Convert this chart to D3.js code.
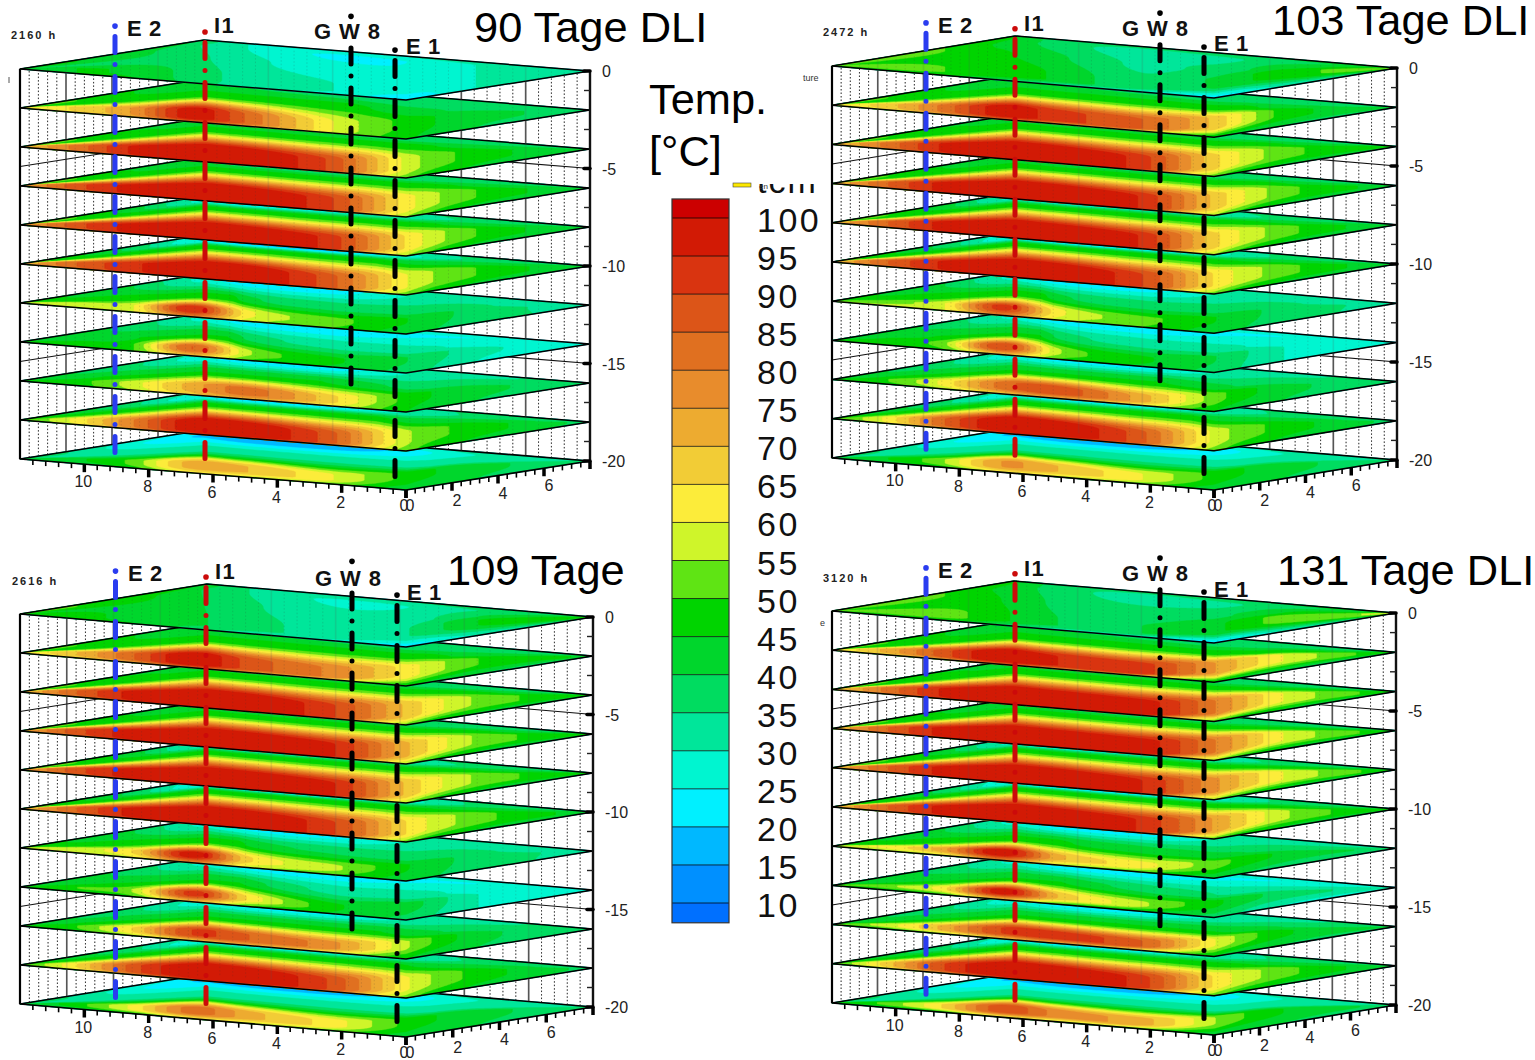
<!DOCTYPE html>
<html><head><meta charset="utf-8">
<script src="https://cdn.jsdelivr.net/npm/d3@7"></script>
<style>html,body{margin:0;background:#fff}svg{display:block}text{font-family:"Liberation Sans",Arial,sans-serif}</style>
</head><body><svg id="c" width="1535" height="1060"></svg>
<script>
// ---------- data (°C) ----------
const legendTicks=[100,95,90,85,80,75,70,65,60,55,50,45,40,35,30,25,20,15,10];
const bandColors=["#cc0000","#d21a05","#d93410","#dc5518","#e07020","#e88c2c","#edab30","#f2cc36","#fcec3a","#cff52a","#5fe414","#00d400","#00d62c","#00dc60","#00e69a","#00f5d0","#00f0ff","#00b8ff","#0090ff","#0070ff"];
const depths=[0,-2,-4,-6,-8,-10,-12,-14,-16,-18,-20];
const alongDiagonal=[0,.1,.2,.3,.4,.55,.68,.8,1];
const ridgeOffset=[.5,.3,.22,.2,.18,.16,.32,.46,.5];
const ridgeWidth=[.08,.1,.13,.13,.13,.13,.035,.035,.06,.11,.06];
const falloff=[1,.95,1,1,1,1,.8,.8,.85,1,.85];
const shoulderAt=[.6,.64,.74,.74,.74,.74,.5,.5,.55,.7,.55];
const shoulderTemp=[38,47,47,47,47,47,47,45,45,47,33];
const surfaceWarming=[0,8,5,8];
const ridge90=[[42,45,44,38,33,30,27,30,34],[60,66,76,98,84,60,48,42,38],[68,82,96,100,100,88,58,48,40],[72,88,97,100,100,90,62,50,40],[72,88,97,100,100,92,64,50,40],[70,85,94,99,100,86,60,50,40],[56,58,60,95,62,52,45,38,32],[45,46,50,85,56,46,40,32,25],[45,48,58,72,82,66,48,42,36],[48,62,80,99,100,86,56,48,38],[40,44,52,72,70,60,48,42,36]];
const ridge103=[[45,45,42,40,36,28,33,40,45],[60,68,82,98,92,85,68,48,42],[68,82,96,100,100,92,66,52,45],[70,85,97,100,101,94,68,52,42],[70,85,97,100,100,94,66,52,40],[68,85,96,100,100,90,64,52,40],[52,54,60,92,62,52,45,38,33],[45,48,54,90,56,46,40,30,26],[45,50,62,82,88,72,52,42,36],[48,62,85,100,100,86,58,48,38],[40,45,55,75,70,60,48,42,36]];
const ridge109=[[44,42,38,36,32,28,30,40,44],[60,70,85,100,88,78,62,50,44],[68,85,97,100,100,90,68,54,45],[72,88,98,100,101,95,70,54,45],[72,88,98,100,101,95,68,54,45],[70,85,97,100,100,90,64,52,42],[55,58,66,98,66,56,45,38,33],[46,50,56,92,64,46,42,30,26],[45,50,66,90,85,76,55,42,36],[48,65,88,100,100,88,60,48,38],[40,48,62,82,72,62,48,42,36]];
const ridge131=[[42,44,44,38,32,32,36,44,48],[60,72,88,100,95,92,75,60,45],[66,82,96,100,100,98,80,60,46],[70,85,97,100,100,98,80,60,46],[70,85,97,100,101,95,76,60,46],[68,85,97,100,100,94,74,56,44],[58,62,74,100,72,62,52,44,38],[50,54,64,98,70,56,46,38,32],[50,58,72,90,92,85,60,46,40],[48,68,90,100,100,92,64,52,40],[44,52,66,88,78,72,55,45,38]];
const frontRows=[[42,45,45,38,32,28,22,30,34],[58,65,72,85,75,58,46,40,36],[68,80,92,95,94,82,52,44,38],[70,84,94,96,95,84,55,44,38],[70,84,94,96,95,84,55,44,38],[68,82,92,95,94,80,52,44,38],[55,56,60,80,58,50,42,38,32],[45,46,50,70,50,44,38,30,26],[45,48,56,68,72,60,45,40,36],[48,60,76,92,92,78,52,44,38],[40,42,48,62,58,52,42,40,36]];
const valleyRows=[[45,45,42,36,30,24,25,30,34],[50,50,45,42,40,38,36,36,36],[55,50,46,44,42,40,38,38,38],[55,50,45,42,38,36,36,38,38],[55,50,42,30,24,28,32,36,38],[55,46,38,26,18,18,28,36,38],[50,44,40,30,22,22,30,33,32],[45,42,38,30,22,20,24,25,28],[45,40,36,28,22,22,30,34,36],[48,42,36,26,20,22,30,36,38],[40,34,26,20,16,16,22,30,36]];
const backRows=[[45,45,42,40,30,28,30,32,34],[50,48,45,42,38,36,36,36,36],[55,48,44,42,40,38,38,38,38],[55,48,44,40,36,36,36,38,38],[55,48,42,30,28,30,34,36,38],[55,46,38,28,24,26,30,36,38],[50,44,40,30,26,26,30,33,32],[45,42,38,30,26,26,27,28,28],[45,40,36,30,26,28,32,34,36],[48,42,36,30,26,28,32,36,38],[40,34,28,24,22,22,26,32,36]];
const wellNames=["E 2","I1","G W 8","E 1"];
const wellColors=["#2a3cf0","#cc0a0a","#000","#000"];
const wellDots=[2.2,1.9,2.7,.97];
const wellDashTops=[1.67,1.36,1.08,.44];
const wellBottoms=[-19.85,-20.2,-16.35,-21.2];
const panels=[
 {hours:"2160 h",title:"90 Tage DLI",tx:474,ty:42,hx:11,hy:39,zSpan:19.5,L:[20,69],R:[590,71],F:[406,100],wells:[115,205,351,395],ridge:ridge90,lab:[[127,36],[214,33],[314,39],[406,54]]},
 {hours:"2472 h",title:"103 Tage DLI",tx:1272,ty:35,hx:823,hy:36,zSpan:19.6,L:[832,66],R:[1397,68],F:[1214,98],wells:[926,1015,1160,1204],ridge:ridge103,lab:[[938,33],[1024,31],[1122,36],[1214,51]]},
 {hours:"2616 h",title:"109 Tage",tx:447,ty:585,hx:12,hy:585,zSpan:19.5,L:[20,614],R:[593,617],F:[406,647],wells:[115.5,206,352,397],ridge:ridge109,lab:[[128,581],[215,579],[315,586],[407,600]]},
 {hours:"3120 h",title:"131 Tage DLI",tx:1277,ty:585,hx:823,hy:582,zSpan:19.6,L:[832,611],R:[1396,613],F:[1214,643],wells:[926,1015,1160,1204],ridge:ridge131,lab:[[938,578],[1024,576],[1122,581],[1214,597]]}
];
// ---------- helpers ----------
const svg=d3.select("#c");
function hermite(row,p){
  const X=alongDiagonal;let i=d3.bisectRight(X,p)-1;i=Math.max(0,Math.min(X.length-2,i));
  const h=X[i+1]-X[i],t=(p-X[i])/h;
  const m=k=>k<=0?(row[1]-row[0])/(X[1]-X[0]):k>=X.length-1?(row[k]-row[k-1])/(X[k]-X[k-1]):(row[k+1]-row[k-1])/(X[k+1]-X[k-1]);
  const t2=t*t,t3=t2*t;
  return (2*t3-3*t2+1)*row[i]+(t3-2*t2+t)*h*m(i)+(-2*t3+3*t2)*row[i+1]+(t3-t2)*h*m(i+1);
}
const smooth=t=>t*t*(3-2*t);
const thresholds=d3.range(10,100,5);
const colorOfBand=t=>bandColors[Math.round((100-t)/5)];
const nx=210,ny=64;
const contours=d3.contours().size([nx,ny]).smooth(true).thresholds(thresholds);

panels.forEach((P,pi)=>{
  const zSpan=P.zSpan;
  const B=[P.L[0]+P.R[0]-P.F[0],P.L[1]+P.R[1]-P.F[1]];
  const g=svg.append("g");
  const zY=d3.scaleLinear().domain([0,-20]).range([0,20*zSpan]);
  const frontY=d3.scaleLinear().domain([P.L[0],P.F[0],P.R[0]]).range([P.L[1],P.F[1],P.R[1]]);
  const backY=d3.scaleLinear().domain([P.L[0],B[0],P.R[0]]).range([P.L[1],B[1],P.R[1]]);
  const pX=d3.scaleLinear().domain([0,1]).range([P.L[0],P.R[0]]);
  const xPx=d3.scaleLinear().domain([0,12]).range([0,P.L[0]-P.F[0]]);
  const xPy=d3.scaleLinear().domain([0,12]).range([0,P.L[1]-P.F[1]]);
  const yPx=d3.scaleLinear().domain([0,8]).range([0,P.R[0]-P.F[0]]);
  const yPy=d3.scaleLinear().domain([0,8]).range([0,P.R[1]-P.F[1]]);
  const proj=(x,y,z)=>[P.F[0]+xPx(x)+yPx(y),P.F[1]+xPy(x)+yPy(y)+zY(z)];
  const line=d3.line();
  const wall=sel=>{
    d3.range(.4,8,.4).forEach(y=>{
      const major=Math.abs(y/2-Math.round(y/2))<.01;
      sel.append("path").attr("d",line([proj(12,y,0),proj(12,y,-20)])).attr("fill","none")
        .attr("stroke",major?"#555":"#333").attr("stroke-width",major?1.6:1).attr("stroke-dasharray",major?null:"1.5 2");
    });
    d3.range(.4,12,.4).forEach(x=>{
      const major=Math.abs(x/2-Math.round(x/2))<.01;
      sel.append("path").attr("d",line([proj(x,8,0),proj(x,8,-20)])).attr("fill","none")
        .attr("stroke",major?"#555":"#333").attr("stroke-width",major?1.6:1).attr("stroke-dasharray",major?null:"1.5 2");
    });
  };
  wall(g);
  [-5,-10,-15].forEach(z=>{
    g.append("path").attr("d",line([proj(12,0,z),proj(12,8,z),proj(0,8,z)])).attr("fill","none").attr("stroke","#111").attr("stroke-width",1.1);
  });
  d3.range(depths.length-1,-1,-1).forEach(k=>{
    const z=depths[k];
    const warm=k===0?surfaceWarming[pi]:0;
    const ridge=P.ridge[k],front=frontRows[k],valley=valleyRows[k],back=backRows[k];
    const w=ridgeWidth[k],gam=falloff[k],fs=shoulderAt[k],st=shoulderTemp[k],vf=.88;
    const values=new Float64Array(nx*ny);
    for(let i=0;i<nx;i++){
      const p=(i+.5)/nx;
      const a=hermite(front,p),r=hermite(ridge,p)+warm,v=hermite(valley,p)+warm,b=hermite(back,p)+warm,rf=hermite(ridgeOffset,p);
      const lo=Math.max(.005,rf-w),hi=rf+w,sT=Math.min(st+warm,(r+v)/2),fsh=Math.max(fs,hi+.12);
      for(let j=0;j<ny;j++){
        const f=(j+.5)/ny;let T;
        if(f<lo)T=a+(r-a)*smooth(f/lo);
        else if(f<hi)T=r;
        else if(f<fsh)T=r+(sT-r)*smooth(Math.pow((f-hi)/(fsh-hi),gam));
        else if(f<vf)T=sT+(v-sT)*smooth((f-fsh)/(vf-fsh));
        else T=v+(b-v)*smooth((f-vf)/(1-vf));
        values[j*nx+i]=T;
      }
    }
    const transform=d3.geoTransform({point(x,y){
      const px=pX(Math.max(0,Math.min(1,x/nx))),f=Math.max(0,Math.min(1,y/ny));
      this.stream.point(px,frontY(px)*(1-f)+backY(px)*f+zY(z));
    }});
    const path=d3.geoPath(transform);
    const outline=[proj(12,0,z),proj(12,8,z),proj(0,8,z),proj(0,0,z)];
    const lg=g.append("g");
    lg.append("path").attr("d",line(outline)+"Z").attr("fill",bandColors[bandColors.length-1]);
    lg.selectAll("path.c").data(contours(Array.from(values))).join("path").attr("class","c")
      .attr("d",d=>path(d)).attr("fill",d=>colorOfBand(d.value)).attr("stroke",d=>colorOfBand(d.value)).attr("stroke-width",.4);
    lg.append("path").attr("d",line(outline)+"Z").attr("fill","none").attr("stroke","#000").attr("stroke-width",k===depths.length-1?1.6:1.5).attr("stroke-linejoin","round");
  });
  const ghost=g.append("g").attr("opacity",.16);wall(ghost);
  g.append("path").attr("d",line([proj(12,0,0),proj(12,0,-20)])).attr("stroke","#000").attr("stroke-width",2.2);
  g.append("path").attr("d",line([proj(0,8,0),proj(0,8,-20)])).attr("stroke","#111").attr("stroke-width",2.4);
  d3.range(0,12,.4).forEach(x=>{
    const major=Math.abs(x/2-Math.round(x/2))<.01,a=proj(x,0,-20);
    g.append("line").attr("x1",a[0]).attr("y1",a[1]).attr("x2",a[0]).attr("y2",a[1]+(major?8:5)).attr("stroke","#000").attr("stroke-width",major?3.5:1.6);
  });
  d3.range(0,8.01,.4).forEach(y=>{
    const major=Math.abs(y/2-Math.round(y/2))<.01,a=proj(0,y,-20);
    g.append("line").attr("x1",a[0]).attr("y1",a[1]).attr("x2",a[0]).attr("y2",a[1]+(major?8:5)).attr("stroke","#000").attr("stroke-width",major?3.5:1.6);
  });
  [10,8,6,4,2,0].forEach(x=>{const a=proj(x,0,-20);
    g.append("text").attr("x",a[0]+(x?-1:-2)).attr("y",a[1]+(x?23:21)).attr("text-anchor","middle").attr("font-size",16).attr("fill","#222").text(x);});
  [0,2,4,6].forEach(y=>{const a=proj(0,y,-20);
    g.append("text").attr("x",a[0]+(y?5:4)).attr("y",a[1]+(y?23:21)).attr("text-anchor","middle").attr("font-size",16).attr("fill","#222").text(y);});
  d3.range(-1,-20,-2).forEach(z=>{const a=proj(0,8,z);
    g.append("line").attr("x1",a[0]-6).attr("y1",a[1]).attr("x2",a[0]).attr("y2",a[1]).attr("stroke","#222").attr("stroke-width",1.4);});
  [0,-5,-10,-15,-20].forEach(z=>{const a=proj(0,8,z);
    g.append("line").attr("x1",a[0]-6).attr("y1",a[1]).attr("x2",a[0]).attr("y2",a[1]).attr("stroke","#000").attr("stroke-width",3.5).attr("stroke-linecap","round");
    g.append("text").attr("x",a[0]+12).attr("y",a[1]+6).attr("font-size",16).attr("fill","#222").text(z);});
  wellNames.forEach((n,i)=>{
    const wx=P.wells[i],Y=z=>P.L[1]+zY(z);
    g.append("circle").attr("cx",wx).attr("cy",Y(wellDots[i])).attr("r",2.8).attr("fill",wellColors[i]);
    g.append("line").attr("x1",wx).attr("x2",wx).attr("y1",Y(wellDashTops[i])).attr("y2",Y(wellBottoms[i])).attr("stroke",wellColors[i]).attr("stroke-width",5)
      .attr("stroke-linecap","round").attr("stroke-dasharray","16 12 0 12");
    g.append("text").attr("x",P.lab[i][0]).attr("y",P.lab[i][1]).attr("font-size",22).attr("font-weight","bold").attr("letter-spacing",n==="I1"?1.5:n==="G W 8"?.9:.6).attr("fill","#111").text(n);
  });
  svg.append("text").attr("x",P.hx).attr("y",P.hy).attr("font-size",11).attr("font-weight","bold").attr("letter-spacing",2).attr("fill","#222").text(P.hours);
  svg.append("text").attr("x",P.tx).attr("y",P.ty).attr("font-size",43.4).attr("fill","#000").text(P.title);
});
const ly=d3.scaleLinear().domain([10,100]).range([903,218]);
const edges=[102.5,...legendTicks,7.4];
bandColors.forEach((c,i)=>{
  svg.append("rect").attr("x",672).attr("width",57).attr("y",ly(edges[i])).attr("height",ly(edges[i+1])-ly(edges[i])).attr("fill",c);
});
legendTicks.forEach(t=>{
  svg.append("line").attr("x1",672).attr("x2",729).attr("y1",ly(t)).attr("y2",ly(t)).attr("stroke","#000").attr("stroke-opacity",.75);
  svg.append("text").attr("x",757).attr("y",ly(t)+14).attr("font-size",34).attr("letter-spacing",2.5).attr("fill","#111").text(t);
});
svg.append("rect").attr("x",672).attr("width",57).attr("y",ly(102.5)).attr("height",ly(7.4)-ly(102.5)).attr("fill","none").attr("stroke","#333").attr("stroke-width",1.2);
svg.append("text").attr("x",649).attr("y",114).attr("font-size",43.4).text("Temp.");
svg.append("text").attr("x",649).attr("y",166).attr("font-size",43.4).text("[°C]");
const defs=svg.append("defs");
defs.append("clipPath").attr("id","hd").append("rect").attr("x",750).attr("y",184).attr("width",80).attr("height",12);
svg.append("text").attr("clip-path","url(#hd)").attr("x",757).attr("y",193).attr("font-size",34).attr("letter-spacing",2).attr("fill","#111").text("tcm");
svg.append("rect").attr("x",733).attr("y",183).attr("width",18).attr("height",4).attr("fill","#fde800").attr("stroke","#444").attr("stroke-width",.6);
svg.append("text").attr("x",759).attr("y",189).attr("font-size",8).attr("fill","#333").text("en");
svg.append("text").attr("x",803).attr("y",81).attr("font-size",9).attr("fill","#333").text("ture");
svg.append("text").attr("x",820).attr("y",626).attr("font-size",9).attr("fill","#333").text("e");
svg.append("line").attr("x1",9).attr("x2",9).attr("y1",77).attr("y2",83).attr("stroke","#555");
</script></body></html>
